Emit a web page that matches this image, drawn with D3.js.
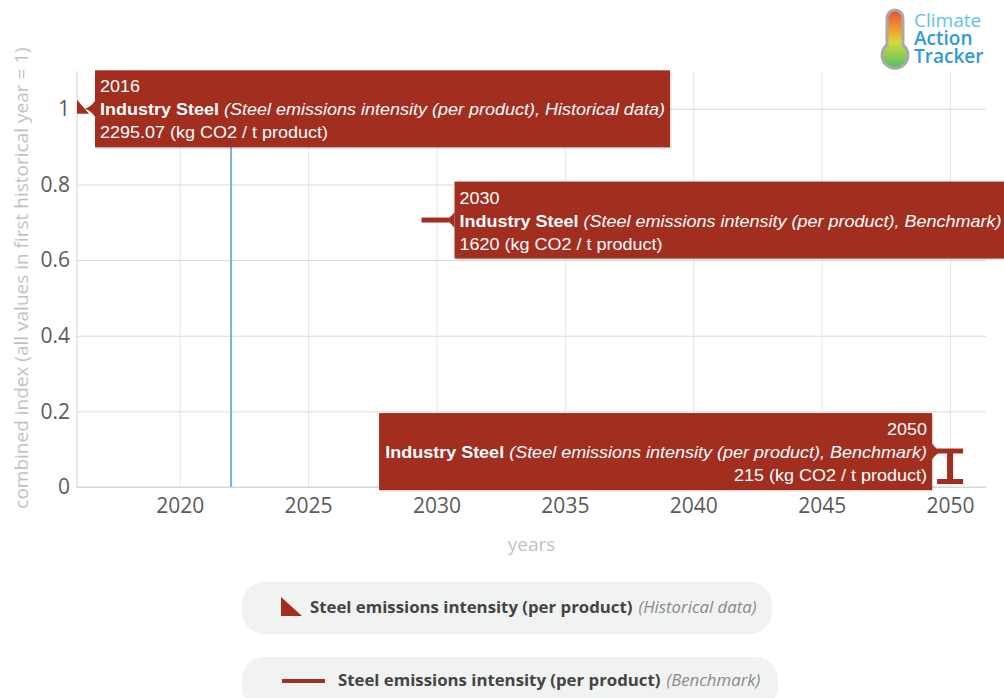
<!DOCTYPE html>
<html><head><meta charset="utf-8">
<script src="https://cdn.jsdelivr.net/npm/d3@7"></script>
<style>body{margin:0;background:#fff;} svg{display:block;}</style>
</head><body><svg id="c" width="1004" height="698"></svg>
<script>
// ---------------- DATA ----------------
const baseValue = 2295.07;               // first historical year value (index = 1)
const historicalYears = [2016];
const historicalValues = [2295.07];
const benchmarkYears = [2030, 2050];
const benchmarkValues = [1620, 215];
const crosshairYear = 2022;
const xTicks = [2020, 2025, 2030, 2035, 2040, 2045, 2050];
const yTicks = [0, 0.2, 0.4, 0.6, 0.8, 1];
const yTickLabels = ["0", "0.2", "0.4", "0.6", "0.8", "1"];
const sectorName = "Industry Steel";
const indicatorName = "Steel emissions intensity (per product)";
const unitLabel = "(kg CO2 / t product)";
const seriesNames = ["Historical data", "Benchmark"];
const xTitle = "years";
const yTitle = "combined index (all values in first historical year = 1)";
const logoWords = ["Climate", "Action", "Tracker"];

// ---------------- SETUP ----------------
const svg = d3.select("#c");
const m = {left: 77, right: 986, top: 71, bottom: 487};
const x = d3.scaleLinear().domain([2016, 2051.4]).range([m.left, m.right]);
const y = d3.scaleLinear().domain([0, 1.1]).range([m.bottom, m.top]);
const idx = v => v / baseValue;
const RED = "#a22e20";
const TFONT = "'Liberation Sans', Arial, sans-serif";
const OFONT = "'Open Sans', sans-serif";

// ---------------- AXES / GRID ----------------
const gx = svg.append("g").attr("transform", `translate(0,${m.bottom})`)
  .call(d3.axisBottom(x).tickValues(xTicks).tickSize(-(m.bottom - m.top)).tickSizeOuter(0)
    .tickPadding(11).tickFormat(d3.format("d")));
gx.select(".domain").remove();
gx.selectAll(".tick line").attr("stroke", "#e6e6e6");
gx.selectAll(".tick text").attr("fill", "#5a5a5a").attr("font-family", OFONT).attr("font-size", 21);

const gy = svg.append("g").attr("transform", `translate(${m.left},0)`)
  .call(d3.axisLeft(y).tickValues(yTicks).tickSize(-(m.right - m.left)).tickSizeOuter(0)
    .tickPadding(7).tickFormat((d, i) => yTickLabels[i]));
gy.select(".domain").remove();
gy.selectAll(".tick line").attr("stroke", "#dadada");
gy.selectAll(".tick text").attr("fill", "#5a5a5a").attr("font-family", OFONT).attr("font-size", 21);

// axis lines
svg.append("line").attr("x1", m.left).attr("x2", m.left).attr("y1", m.top).attr("y2", m.bottom)
  .attr("stroke", "#d4d4d4");
svg.append("line").attr("x1", m.left).attr("x2", m.right).attr("y1", m.bottom).attr("y2", m.bottom)
  .attr("stroke", "#d4d4d4");

// axis titles
svg.append("text").attr("transform", `translate(21,278)rotate(-90)`)
  .attr("text-anchor", "middle").attr("dy", "0.35em").attr("font-family", OFONT).attr("font-size", 19)
  .attr("fill", "#c2c2c2").text(yTitle);
svg.append("text").attr("x", (m.left + m.right) / 2).attr("y", 551).attr("text-anchor", "middle")
  .attr("font-family", OFONT).attr("font-size", 19).attr("fill", "#c2c2c2").text(xTitle);

// crosshair
svg.append("line").attr("x1", x(crosshairYear)).attr("x2", x(crosshairYear))
  .attr("y1", m.top).attr("y2", m.bottom).attr("stroke", "#78b4d3").attr("stroke-width", 2);

// ---------------- MARKERS ----------------
const hist = historicalYears.map((d, i) => ({year: d, value: historicalValues[i]}));
const bench = benchmarkYears.map((d, i) => ({year: d, value: benchmarkValues[i]}));

svg.selectAll(".hist").data(hist).enter().append("path").attr("class", "hist")
  .attr("d", d => { const px = x(d.year), py = y(idx(d.value));
    return `M${px},${py - 9}L${px},${py + 5}L${px + 12},${py + 5}Z`; })
  .attr("fill", RED);

// 2030 benchmark: dash marker
svg.selectAll(".bdash").data(bench.slice(0, 1)).enter().append("line").attr("class", "bdash")
  .attr("x1", d => x(d.year) - 15).attr("x2", d => x(d.year) + 12)
  .attr("y1", d => y(idx(d.value))).attr("y2", d => y(idx(d.value)))
  .attr("stroke", RED).attr("stroke-width", 5);

// 2050 benchmark: I-beam marker
svg.selectAll(".bI").data(bench.slice(1)).enter().append("path").attr("class", "bI")
  .attr("d", d => { const px = x(d.year), top = y(idx(d.value)) - 3, bot = y(0) - 3;
    return `M${px - 13},${top}H${px + 13}V${top + 5}H${px + 3}V${bot - 5}H${px + 13}V${bot}H${px - 13}V${bot - 5}H${px - 3}V${top + 5}H${px - 13}Z`; })
  .attr("fill", RED);

// ---------------- TOOLTIPS ----------------
function tooltip(d, series, side) {
  const px = x(d.year), py = y(idx(d.value));
  const g = svg.append("g");
  const tg = g.append("g");
  const lines = [
    [{t: String(d.year)}],
    [{t: sectorName, w: "bold"}, {t: " (" + indicatorName + ", " + series + ")", s: "italic"}],
    [{t: d3.format("")(d.value) + " " + unitLabel}]
  ];
  const texts = lines.map((ln, i) => {
    const t = tg.append("text").attr("y", [22, 45, 68][i] - 38.5)
      .attr("font-family", TFONT).attr("font-size", 17).attr("fill", "#fff")
      .attr("text-anchor", side === "left" ? "start" : "end");
    ln.forEach(p => t.append("tspan").attr("font-weight", p.w || "normal")
      .attr("font-style", p.s || "normal").text(p.t));
    return t;
  });
  return {g, tg, texts, px, py, side};
}
const tips = [
  tooltip(hist[0], seriesNames[0], "left"),
  tooltip(bench[0], seriesNames[1], "left"),
  tooltip(bench[1], seriesNames[1], "right")
];
// common horizontal compression so the first tooltip's long line spans the measured width
const k = 565 / tips[0].texts[1].node().getComputedTextLength();
tips.forEach(tp => {
  const w = Math.max(...tp.texts.map(t => t.node().getComputedTextLength())) * k;
  const h = 77, top = tp.py - h / 2;
  let x0, x1, tx;
  if (tp.side === "left") { x0 = tp.px + 18; x1 = x0 + w + 10; tx = x0 + 5; }
  else { x1 = tp.px - 18; x0 = x1 - w - 11; tx = x1 - 5; }
  tp.g.insert("rect", ":first-child").attr("x", x0 + 1.5).attr("y", top + 1.5).attr("width", x1 - x0)
    .attr("height", h).attr("fill", "rgba(0,0,0,0.12)");
  tp.g.insert("rect", "g").attr("x", x0).attr("y", top).attr("width", x1 - x0).attr("height", h)
    .attr("fill", RED);
  const e = tp.side === "left" ? x0 : x1, dir = tp.side === "left" ? -1 : 1;
  tp.g.insert("path", "g").attr("d", `M${e},${tp.py - 8}Q${e + dir * 4},${tp.py - 2} ${e + dir * 10},${tp.py}Q${e + dir * 4},${tp.py + 2} ${e},${tp.py + 8}Z`)
    .attr("fill", RED);
  tp.tg.attr("transform", `translate(${tx},${tp.py}) scale(${k},1)`);
});

// ---------------- LEGEND ----------------
const legend = [
  {y0: 582, h: 52, x1: 772, sym: "tri", name: seriesNames[0], base: 613, tx: 310},
  {y0: 657, h: 52, x1: 778, sym: "line", name: seriesNames[1], base: 686, tx: 338}
];
legend.forEach(L => {
  svg.append("rect").attr("x", 242).attr("y", L.y0).attr("width", L.x1 - 242).attr("height", L.h)
    .attr("rx", 22).attr("fill", "#f1f2f2");
  if (L.sym === "tri") svg.append("path").attr("d", "M281,597L281,616L302,616Z").attr("fill", RED);
  else svg.append("line").attr("x1", 282).attr("x2", 325).attr("y1", 681).attr("y2", 681)
    .attr("stroke", RED).attr("stroke-width", 4);
  const t = svg.append("text").attr("x", L.tx).attr("y", L.base).attr("font-family", OFONT).attr("font-size", 16.8);
  t.append("tspan").attr("font-weight", "bold").attr("fill", "#444").text(indicatorName);
  t.append("tspan").attr("font-style", "italic").attr("fill", "#8a8a8a").attr("dx", 6).text("(" + L.name + ")");
});

// ---------------- LOGO ----------------
const defs = svg.append("defs");
const gr = defs.append("linearGradient").attr("id", "therm").attr("x1", 0).attr("y1", 0).attr("x2", 0).attr("y2", 1);
[["0%", "#ea4b3c"], ["35%", "#f0a030"], ["55%", "#d7d93c"], ["100%", "#4cbf6a"]]
  .forEach(s => gr.append("stop").attr("offset", s[0]).attr("stop-color", s[1]));
const logo = svg.append("g");
logo.append("path").attr("d", "M887,18a8,8 0 0 1 16,0V45a13,13 0 1 1 -16,0Z")
  .attr("fill", "url(#therm)").attr("stroke", "#a9a9a9").attr("stroke-width", 3);
const logoText = logo.append("text").attr("font-family", OFONT).attr("font-size", 19);
logoText.selectAll("tspan").data(logoWords).enter().append("tspan")
  .attr("x", 914).attr("y", (d, i) => 27 + i * 18)
  .attr("font-weight", (d, i) => i === 0 ? 400 : 600)
  .attr("fill", (d, i) => i === 0 ? "#62c2e6" : "#2f9ad3").text(d => d);
</script></body></html>
